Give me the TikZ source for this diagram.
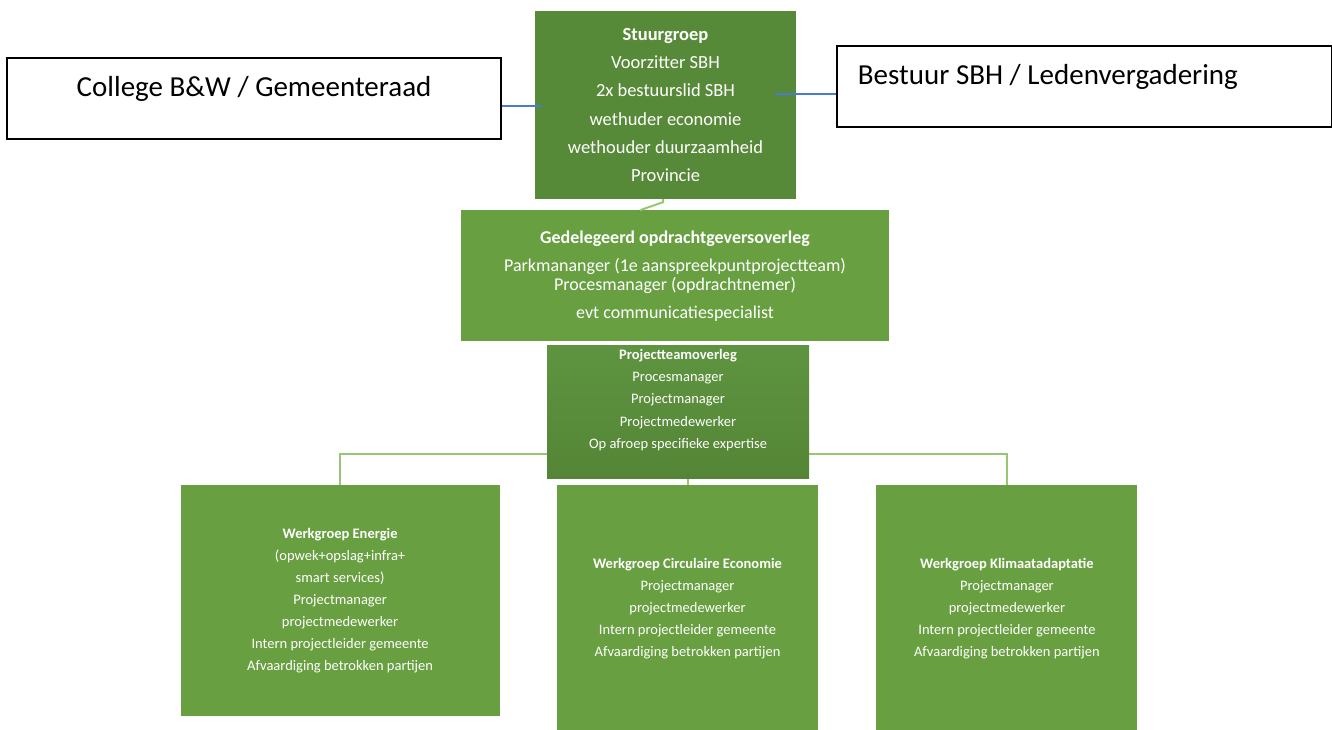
\documentclass[tikz,border=0pt]{standalone}
\usepackage{fontspec}
\setmainfont{Carlito}
\usetikzlibrary{positioning, calc}
\definecolor{sgreen}{HTML}{578A38}
\definecolor{lgreen}{HTML}{68A041}
\definecolor{ptop}{HTML}{5E9440}
\definecolor{pbot}{HTML}{548536}
\definecolor{bgreen}{HTML}{98C576}
\definecolor{mblue}{HTML}{4A7BD0}
\tikzstyle{board} = [rectangle, draw=black, line width=1.5pt, fill=white, minimum height=81pt, font=\fontsize{29}{35}\selectfont]
\tikzstyle{stuurbox} = [rectangle, fill=sgreen, text=white, minimum width=261pt, minimum height=188pt, align=center, font=\fontsize{18.5}{28.3}\selectfont]
\tikzstyle{overlegbox} = [rectangle, fill=lgreen, text=white, minimum width=428pt, minimum height=131pt, align=center, font=\fontsize{18}{19}\selectfont]
\tikzstyle{teambox} = [rectangle, top color=ptop, bottom color=pbot, text=white, minimum width=262pt, minimum height=131pt, align=center, font=\fontsize{14.5}{22.3}\selectfont]
\tikzstyle{werkbox} = [rectangle, fill=lgreen, text=white, minimum width=261pt, minimum height=247pt, align=center, font=\fontsize{14.5}{22}\selectfont]
\tikzstyle{link} = [mblue, line width=1.3pt]
\tikzstyle{branch} = [bgreen, line width=2pt]

\begin{document}
\begin{tikzpicture}[x=1pt, y=-1pt]
  \useasboundingbox (0,0) rectangle (1332,729);
  \node (stuur) [stuurbox] at (665.5,105) {\textbf{Stuurgroep}\\Voorzitter SBH\\2x bestuurslid SBH\\wethuder economie\\wethouder duurzaamheid\\Provincie};
  \node (college) [board, minimum width=494pt, left = 33pt of stuur, yshift=6.5pt] {College B\&W / Gemeenteraad\rule[-25pt]{0pt}{25pt}};
  \node (bestuur) [board, minimum width=495pt, inner xsep=21pt, right = 40pt of stuur, yshift=18.5pt] {\makebox[453pt][l]{Bestuur SBH / Ledenvergadering}\rule[-24pt]{0pt}{24pt}};
  \draw [link] ($(college.east)+(0,7.5)$) -- ($(stuur.west |- college.east)+(7,7.5)$);
  \draw [link] ($(bestuur.west)+(0,7.5)$) -- ($(stuur.east |- bestuur.west)+(-21,7.5)$);
  \node (gedel) [overlegbox, below = 11pt of stuur, xshift=9.5pt] {\textbf{Gedelegeerd opdrachtgeversoverleg}\\[9pt]Parkmananger (1e aanspreekpuntprojectteam)\\Procesmanager (opdrachtnemer)\\[9pt]evt communicatiespecialist};
  \draw [branch] ([xshift=-35pt]gedel.north) -- ([xshift=-2.5pt,yshift=-3pt]stuur.south) -- ([xshift=-2.5pt]stuur.south);
  \node (project) [teambox, below = 4pt of gedel, xshift=3pt] {\textbf{Projectteamoverleg}\\Procesmanager\\Projectmanager\\Projectmedewerker\\Op afroep specifieke expertise\rule[-27pt]{0pt}{27pt}};
  \node (circ) [werkbox, below = 6pt of project, xshift=9.5pt] {\textbf{Werkgroep Circulaire Economie}\\Projectmanager\\projectmedewerker\\Intern projectleider gemeente\\Afvaardiging betrokken partijen};
  \node (energie) [werkbox, minimum width=319pt, minimum height=231pt, left = 57pt of circ.north west, anchor=north east] {\textbf{Werkgroep Energie}\\(opwek+opslag+infra+\\smart services)\\Projectmanager\\projectmedewerker\\Intern projectleider gemeente\\Afvaardiging betrokken partijen};
  \node (klimaat) [werkbox, right = 58pt of circ.north east, anchor=north west] {\textbf{Werkgroep Klimaatadaptatie}\\Projectmanager\\projectmedewerker\\Intern projectleider gemeente\\Afvaardiging betrokken partijen};
  \draw [branch] ([yshift=-41.5pt]project.west) -| (energie.north);
  \draw [branch] ([yshift=-41.5pt]project.east) -| (klimaat.north);
  \draw [branch] (circ.north) -- (circ.north |- project.south);
\end{tikzpicture}
\end{document}
